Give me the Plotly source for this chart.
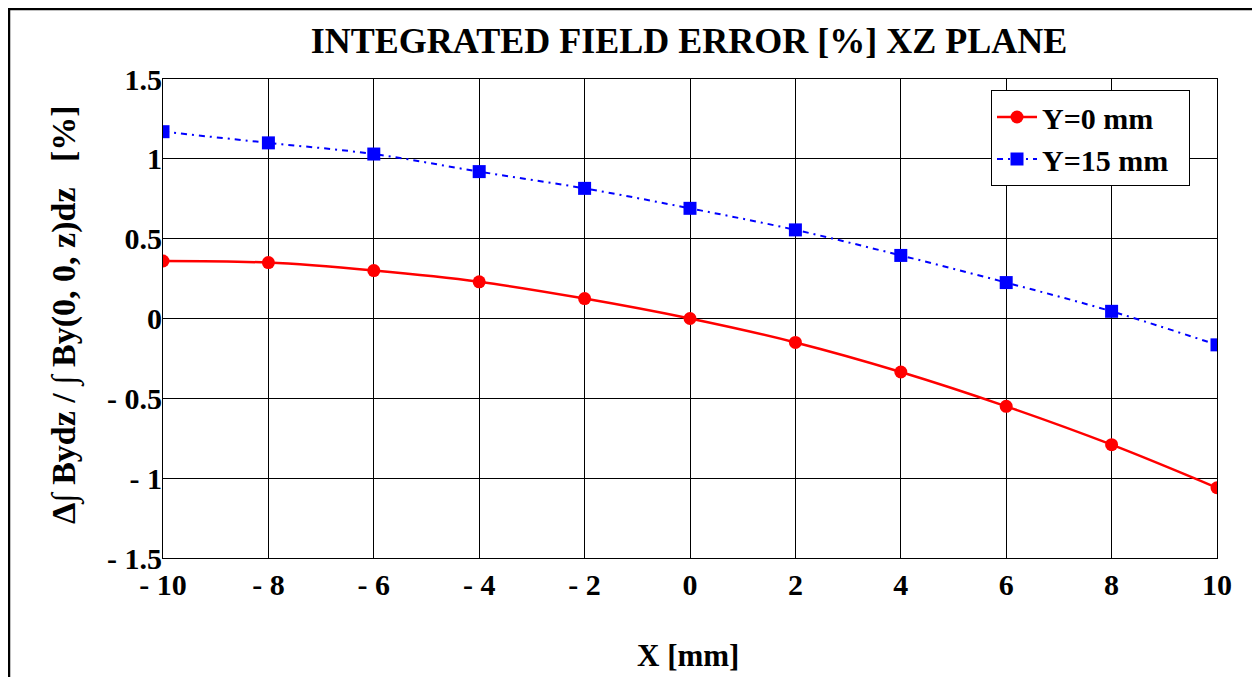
import plotly.graph_objects as go

x_mm = [-10, -8, -6, -4, -2, 0, 2, 4, 6, 8, 10]
err_y0 = [0.36, 0.35, 0.30, 0.23, 0.125, 0.0, -0.15, -0.335, -0.55, -0.79, -1.06]
err_y15 = [1.17, 1.10, 1.03, 0.92, 0.815, 0.69, 0.555, 0.395, 0.225, 0.045, -0.165]

x_ticks = [-10, -8, -6, -4, -2, 0, 2, 4, 6, 8, 10]
x_ticktext = ["- 10", "- 8", "- 6", "- 4", "- 2", "0", "2", "4", "6", "8", "10"]
y_ticks = [-1.5, -1, -0.5, 0, 0.5, 1, 1.5]
y_ticktext = ["- 1.5", "- 1", "- 0.5", "0", "0.5", "1", "1.5"]

FONT = "Liberation Serif"

fig = go.Figure()
fig.add_trace(go.Scatter(
    x=x_mm, y=err_y0, name="Y=0 mm\u00a0\u00a0", mode="lines+markers",
    line=dict(color="#ff0000", width=2.5, shape="spline"),
    marker=dict(symbol="circle", size=13, color="#ff0000"),
))
fig.add_trace(go.Scatter(
    x=x_mm, y=err_y15, name="Y=15 mm\u00a0\u00a0", mode="lines+markers",
    line=dict(color="#0000ff", width=2, dash="6px,5px,2px,5px", shape="spline"),
    marker=dict(symbol="square", size=13, color="#0000ff"),
))

# page has an 8px body margin: figure coords = reference coords - 8
OFF = 8
W, H = 1252, 669
L, R, T, B = 155, 43, 71, 119
pw, ph = W - L - R, H - T - B

def px(x):
    return (x - OFF - L) / pw

def py(y):
    return (H - B - (y - OFF)) / ph

axis_common = dict(
    showgrid=True, gridcolor="#000000", gridwidth=1,
    showline=True, linecolor="#000000", linewidth=1, mirror=True,
    zeroline=False, ticks="",
    tickfont=dict(family=FONT, size=30, color="#000000", weight="bold"),
)

fig.update_layout(
    width=W, height=H,
    margin=dict(l=L, r=R, t=T, b=B, autoexpand=False),
    paper_bgcolor="white", plot_bgcolor="white",
    font=dict(family=FONT, color="#000000"),
    title=dict(text="<b>INTEGRATED FIELD ERROR [%] XZ PLANE</b>",
               xref="paper", x=px(689), xanchor="center",
               yref="container", y=1 - (40 - OFF) / H, yanchor="middle",
               font=dict(family=FONT, size=36, color="#000000")),
    xaxis=dict(range=[-10, 10], tickvals=x_ticks, ticktext=x_ticktext,
               ticklabelstandoff=0, **axis_common),
    yaxis=dict(range=[-1.5, 1.5], tickvals=y_ticks, ticktext=y_ticktext,
               ticklabelstandoff=-6, **axis_common),
    legend=dict(x=px(991), y=py(90), xanchor="left", yanchor="top",
                bgcolor="white", bordercolor="#000000", borderwidth=1,
                font=dict(family=FONT, size=30, color="#000000", weight="bold"),
                tracegroupgap=0, itemwidth=40),
    showlegend=True,
)

fig.add_annotation(text="<b>X [mm]</b>", xref="paper", yref="paper",
                   x=px(688), y=py(655), xanchor="center", yanchor="middle",
                   showarrow=False,
                   font=dict(family=FONT, size=31, color="#000000"))
fig.add_annotation(text="<b>Δ∫ Bydz / ∫ By(0, 0, z)dz   [%]</b>", xref="paper", yref="paper",
                   x=px(65), y=py(315), xanchor="center", yanchor="middle",
                   showarrow=False, textangle=-90,
                   font=dict(family=FONT, size=34, color="#000000"))

# outer frame (left, top, right)
for (x0, y0, x1, y1) in [(9, 9, 9, 690), (8, 9, 1256, 9), (1256, 9, 1256, 690)]:
    fig.add_shape(type="line", xref="paper", yref="paper",
                  x0=px(x0), y0=py(y0), x1=px(x1), y1=py(y1),
                  line=dict(color="#000000", width=2.5))

fig.write_html("out.html")
